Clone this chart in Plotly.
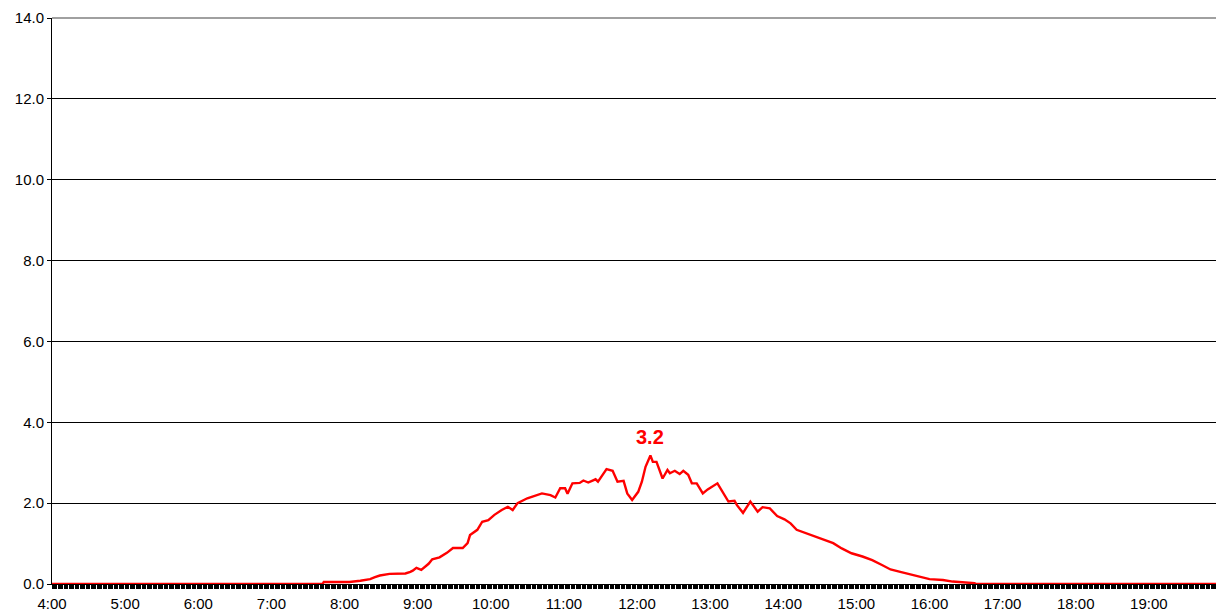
import plotly.graph_objects as go

times = ["4:00", "7:42", "7:43", "8:04", "8:13", "8:21", "8:25", "8:29", "8:37", "8:50",
         "8:54", "8:56", "8:59", "9:03", "9:09", "9:12", "9:18", "9:24", "9:29", "9:37",
         "9:41", "9:43", "9:49", "9:53", "9:58", "10:03", "10:09", "10:14", "10:18", "10:22",
         "10:30", "10:36", "10:42", "10:49", "10:53", "10:57", "11:01", "11:03", "11:07", "11:13",
         "11:16", "11:20", "11:26", "11:28", "11:35", "11:40", "11:44", "11:49", "11:52", "11:56",
         "12:01", "12:04", "12:07", "12:11", "12:13", "12:16", "12:21", "12:25", "12:27", "12:31",
         "12:35", "12:38", "12:42", "12:45", "12:49", "12:54", "12:58", "13:06", "13:10", "13:15",
         "13:20", "13:22", "13:27", "13:33", "13:39", "13:43", "13:49", "13:55", "14:01", "14:06",
         "14:11", "14:20", "14:26", "14:33", "14:41", "14:48", "14:56", "15:05", "15:13", "15:21",
         "15:28", "15:36", "15:44", "15:52", "16:00", "16:11", "16:19", "16:37", "16:38", "20:00"]
values = [0, 0, 0.05, 0.05, 0.08, 0.12, 0.17, 0.21, 0.25, 0.26,
          0.30, 0.33, 0.40, 0.35, 0.50, 0.61, 0.66, 0.77, 0.89, 0.89,
          1.01, 1.21, 1.34, 1.54, 1.58, 1.71, 1.83, 1.91, 1.83, 2.00,
          2.12, 2.18, 2.24, 2.20, 2.14, 2.37, 2.37, 2.23, 2.49, 2.50,
          2.56, 2.51, 2.59, 2.53, 2.84, 2.80, 2.53, 2.55, 2.24, 2.08,
          2.28, 2.53, 2.90, 3.18, 3.02, 3.02, 2.61, 2.82, 2.74, 2.80,
          2.72, 2.80, 2.70, 2.49, 2.49, 2.24, 2.34, 2.49, 2.28, 2.04,
          2.06, 1.95, 1.76, 2.04, 1.79, 1.90, 1.87, 1.68, 1.60, 1.50,
          1.34, 1.24, 1.17, 1.09, 1.01, 0.88, 0.76, 0.68, 0.59, 0.47,
          0.36, 0.30, 0.24, 0.18, 0.12, 0.10, 0.06, 0.02, 0, 0]

hour_ticks = list(range(4, 20))
hour_labels = [f"{h}:00" for h in hour_ticks]
y_ticks = [0, 2, 4, 6, 8, 10, 12, 14]


def to_hours(t):
    h, m = t.split(":")
    return int(h) + int(m) / 60


x = [to_hours(t) for t in times]
peak = max(values)
peak_x = x[values.index(peak)]

FONT = "Liberation Sans, Arial, sans-serif"

fig = go.Figure()
fig.add_trace(go.Scatter(x=x, y=values, mode="lines",
                         line=dict(color="#ff0000", width=2.4),
                         cliponaxis=False, showlegend=False, hoverinfo="x+y"))

fig.add_annotation(x=peak_x, y=peak, text=f"<b>{peak:.1f}</b>", showarrow=False,
                   yanchor="bottom", yshift=5,
                   font=dict(family=FONT, size=20, color="#ff0000"))

# grey frame on top and right
fig.add_shape(type="line", xref="paper", yref="paper", x0=0, x1=1, y0=1, y1=1,
              line=dict(color="#808080", width=1.5), layer="above")
fig.add_shape(type="line", xref="paper", yref="paper", x0=1, x1=1, y0=0, y1=1,
              line=dict(color="#808080", width=1.5), layer="above")

fig.update_xaxes(range=[4, 20], tickmode="array", tickvals=hour_ticks, ticktext=hour_labels,
                 ticks="outside", ticklen=4, tickcolor="black",
                 showline=True, linecolor="black", linewidth=1,
                 showgrid=False, zeroline=False, automargin=False,
                 ticklabelstandoff=2,
                 minor=dict(dtick=1 / 60, tick0=4, ticks="outside", ticklen=4,
                            tickcolor="black", tickwidth=1, showgrid=False),
                 tickfont=dict(family=FONT, size=15, color="black"))
fig.update_yaxes(range=[0, 14], tickmode="array", tickvals=y_ticks,
                 ticktext=[f"{v:.1f}" for v in y_ticks],
                 ticks="outside", ticklen=4, tickcolor="black",
                 showline=True, linecolor="black", linewidth=1,
                 showgrid=True, gridcolor="black", gridwidth=1, zeroline=False,
                 automargin=False,
                 tickfont=dict(family=FONT, size=15, color="black"))

# the page body adds an 8px offset, so the figure is sized to fit the window
fig.update_layout(width=1216, height=606,
                  margin=dict(l=44, r=2, t=10, b=30),
                  paper_bgcolor="white", plot_bgcolor="white",
                  font=dict(family=FONT, color="black"))

fig.write_html("out.html")
